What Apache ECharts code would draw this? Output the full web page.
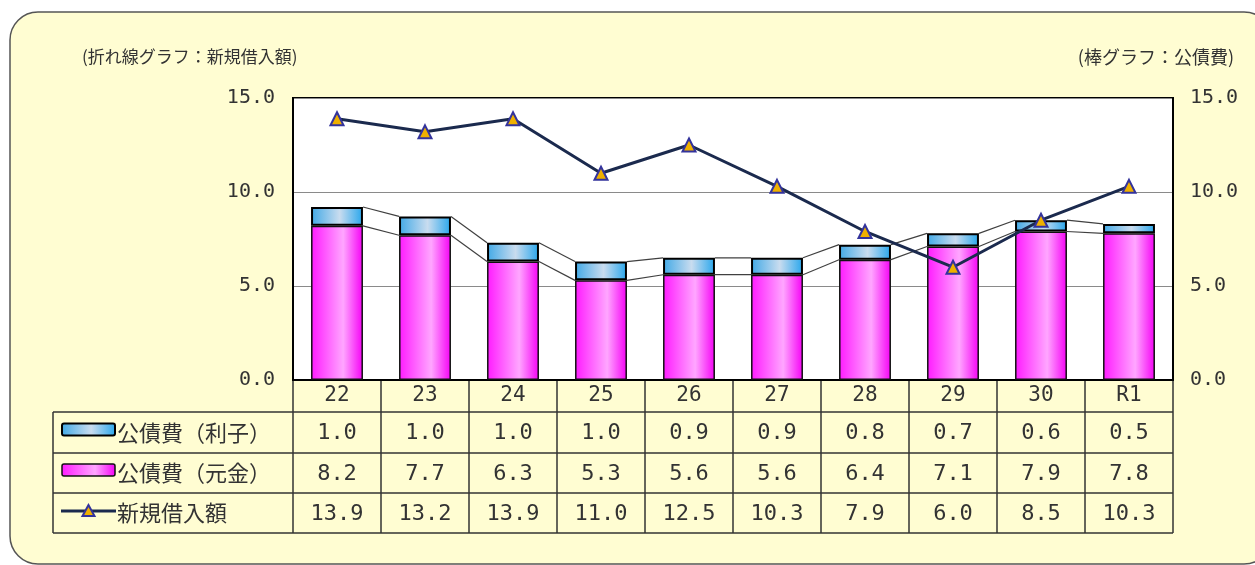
<!DOCTYPE html>
<html lang="ja">
<head>
<meta charset="utf-8">
<title>公債費と新規借入額</title>
<script src="https://cdn.jsdelivr.net/npm/echarts@6/dist/echarts.min.js"></script>
<style>
  html, body { margin: 0; padding: 0; background: #ffffff; }
  #chart { width: 1255px; height: 565px; }
</style>
</head>
<body>
<div id="chart"></div>
<script>
// Fiscal years (平成22 … 令和元年)
const categories = ['22', '23', '24', '25', '26', '27', '28', '29', '30', 'R1'];
// 公債費（利子） — interest part of debt service
const interest = [1.0, 1.0, 1.0, 1.0, 0.9, 0.9, 0.8, 0.7, 0.6, 0.5];
// 公債費（元金） — principal part of debt service
const principal = [8.2, 7.7, 6.3, 5.3, 5.6, 5.6, 6.4, 7.1, 7.9, 7.8];
// 新規借入額 — new borrowing
const newBorrowing = [13.9, 13.2, 13.9, 11.0, 12.5, 10.3, 7.9, 6.0, 8.5, 10.3];
// Value axis
const yMin = 0, yMax = 15, yStep = 5;
const seriesNames = ['公債費（利子）', '公債費（元金）', '新規借入額'];
const leftCaption = '(折れ線グラフ：新規借入額)';
const rightCaption = '(棒グラフ：公債費)';

const MONO = '"DejaVu Sans Mono", "Liberation Mono", monospace';
const JP = '"Noto Sans CJK JP", "Noto Sans", sans-serif';
const TEXT = '#333333';
const BAR_RATIO = 0.59;

const blueFill = new echarts.graphic.LinearGradient(0, 0, 1, 0, [
  { offset: 0, color: '#41A9E6' },
  { offset: 0.55, color: '#C9DCEF' },
  { offset: 1, color: '#27A6EC' }
]);
const pinkFill = new echarts.graphic.LinearGradient(0, 0, 1, 0, [
  { offset: 0, color: '#FF1AFF' },
  { offset: 0.62, color: '#FFA6FF' },
  { offset: 1, color: '#F500F5' }
]);

// running totals used by the connector lines between stacked bars
const principalTop = principal.slice();
const totalTop = principal.map((v, i) => +(v + interest[i]).toFixed(2));
function connectorData(tops) {
  const out = [];
  for (let i = 0; i < tops.length - 1; i++) out.push([i, tops[i], tops[i + 1]]);
  return out;
}
function renderConnector(params, api) {
  const i = api.value(0);
  const a = api.coord([i, api.value(1)]);
  const b = api.coord([i + 1, api.value(2)]);
  const half = api.size([1, 0])[0] * BAR_RATIO / 2;
  return {
    type: 'line',
    shape: { x1: a[0] + half, y1: a[1], x2: b[0] - half, y2: b[1] },
    style: { stroke: '#404040', lineWidth: 1.2 }
  };
}

const chart = echarts.init(document.getElementById('chart'), null, { renderer: 'canvas' });

const valueAxis = (pos, margin) => ({
  type: 'value',
  position: pos,
  min: yMin, max: yMax, interval: yStep,
  axisLine: { show: true, lineStyle: { color: '#000', width: 2 } },
  axisTick: { show: false },
  splitLine: { show: pos === 'left', lineStyle: { color: '#8a8a8a', width: 1 } },
  axisLabel: {
    margin: margin,
    color: TEXT,
    fontFamily: MONO,
    fontSize: 20,
    formatter: v => v.toFixed(1)
  }
});

chart.setOption({
  backgroundColor: '#ffffff',
  animation: false,
  grid: {
    left: 293, right: 82, top: 98, bottom: 185,
    show: true, backgroundColor: '#ffffff', borderColor: '#000', borderWidth: 2
  },
  xAxis: {
    type: 'category',
    data: categories,
    axisLine: { show: true, lineStyle: { color: '#000', width: 2 } },
    axisTick: { show: false },
    axisLabel: {
      margin: 16, verticalAlign: 'middle',
      color: TEXT, fontFamily: MONO, fontSize: 21
    }
  },
  yAxis: [valueAxis('left', 18), valueAxis('right', 17)],
  series: [
    {
      type: 'custom', name: 'conn-principal', z: 1,
      renderItem: renderConnector, data: connectorData(principalTop),
      encode: { x: 0, y: 1 }, silent: true
    },
    {
      type: 'custom', name: 'conn-total', z: 1,
      renderItem: renderConnector, data: connectorData(totalTop),
      encode: { x: 0, y: 1 }, silent: true
    },
    {
      name: seriesNames[1], type: 'bar', stack: 'debt', z: 2,
      barWidth: (BAR_RATIO * 100) + '%',
      data: principal,
      itemStyle: { color: pinkFill, borderColor: '#111', borderWidth: 1.5 }
    },
    {
      name: seriesNames[0], type: 'bar', stack: 'debt', z: 2,
      data: interest,
      itemStyle: { color: blueFill, borderColor: '#000', borderWidth: 2 }
    },
    {
      name: seriesNames[2], type: 'line', z: 5,
      data: newBorrowing,
      lineStyle: { color: '#1B2A4E', width: 3 },
      symbol: 'triangle', symbolSize: 13,
      itemStyle: { color: '#EFB000', borderColor: '#33339C', borderWidth: 2 }
    }
  ]
});

// Data table under the plot, laid out on the category axis columns
(function buildTable() {
  const c0 = chart.convertToPixel({ xAxisIndex: 0 }, categories[0]);
  const c1 = chart.convertToPixel({ xAxisIndex: 0 }, categories[1]);
  const band = c1 - c0;
  const plotLeft = c0 - band / 2;
  const plotRight = plotLeft + band * categories.length;
  const tableLeft = 53;
  const rowY = [380, 412, 453, 493, 533];
  const lineStyle = { stroke: '#333', lineWidth: 1.5 };
  const els = [];

  // rounded panel behind everything
  els.push({
    type: 'rect', z: -100, silent: true,
    shape: { x: 10, y: 12, width: 1262, height: 552, r: 28 },
    style: { fill: '#FFFDD2', stroke: '#555', lineWidth: 1.5 }
  });
  // axis captions
  els.push({
    type: 'text', x: 82, y: 57,
    style: { text: leftCaption, font: '17px ' + JP, fill: TEXT, verticalAlign: 'middle', align: 'left' }
  });
  els.push({
    type: 'text', x: 1234, y: 57,
    style: { text: rightCaption, font: '18px ' + JP, fill: TEXT, verticalAlign: 'middle', align: 'right' }
  });

  // horizontal rules
  for (let r = 1; r < rowY.length; r++) {
    els.push({ type: 'line', shape: { x1: tableLeft, y1: rowY[r], x2: plotRight, y2: rowY[r] }, style: lineStyle });
  }
  // vertical rules
  els.push({ type: 'line', shape: { x1: tableLeft, y1: rowY[1], x2: tableLeft, y2: rowY[4] }, style: lineStyle });
  for (let k = 0; k <= categories.length; k++) {
    const x = plotLeft + band * k;
    els.push({ type: 'line', shape: { x1: x, y1: rowY[0], x2: x, y2: rowY[4] }, style: lineStyle });
  }

  const rows = [interest, principal, newBorrowing];
  rows.forEach((vals, r) => {
    const cy = (rowY[r + 1] + rowY[r + 2]) / 2;
    vals.forEach((v, i) => {
      els.push({
        type: 'text', x: plotLeft + band * (i + 0.5), y: cy + 1,
        style: { text: v.toFixed(1), font: '22px ' + MONO, fill: TEXT, align: 'center', verticalAlign: 'middle' }
      });
    });
    els.push({
      type: 'text', x: 117, y: cy,
      style: { text: seriesNames[r], font: '22px ' + JP, fill: TEXT, align: 'left', verticalAlign: 'middle' }
    });
  });

  // legend keys
  const keyX = 62, keyW = 53;
  const y1 = (rowY[1] + rowY[2]) / 2 - 3;
  const y2 = (rowY[2] + rowY[3]) / 2 - 3;
  const y3 = (rowY[3] + rowY[4]) / 2 - 2;
  els.push({ type: 'rect', shape: { x: keyX, y: y1 - 6, width: keyW, height: 12, r: 2 },
    style: { fill: blueFill, stroke: '#000', lineWidth: 2 } });
  els.push({ type: 'rect', shape: { x: keyX, y: y2 - 6, width: keyW, height: 12, r: 2 },
    style: { fill: pinkFill, stroke: '#111', lineWidth: 1.5 } });
  els.push({ type: 'line', shape: { x1: keyX - 1, y1: y3, x2: keyX + keyW + 1, y2: y3 },
    style: { stroke: '#1B2A4E', lineWidth: 3 } });
  els.push({ type: 'polygon', shape: { points: [[keyX + keyW / 2, y3 - 6], [keyX + keyW / 2 - 6, y3 + 5], [keyX + keyW / 2 + 6, y3 + 5]] },
    style: { fill: '#EFB000', stroke: '#33339C', lineWidth: 2 } });

  chart.setOption({ graphic: { elements: els } });
})();
</script>
</body>
</html>
